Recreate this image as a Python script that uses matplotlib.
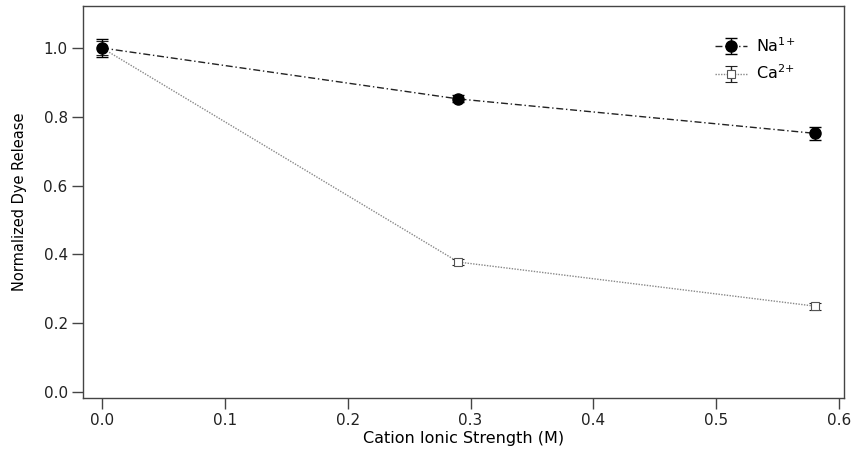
import matplotlib
matplotlib.use("Agg")
import matplotlib.pyplot as plt
from matplotlib.ticker import FormatStrFormatter

plt.rcParams['font.family'] = ['DejaVu Sans']

ionic_strength = [0.0, 0.29, 0.58]
na_release = [1.0, 0.852, 0.752]
na_err = [0.025, 0.01, 0.018]
ca_release = [1.0, 0.378, 0.25]
ca_err = [0.02, 0.008, 0.01]

fig = plt.figure(figsize=(8.53, 4.61), dpi=100)
ax = fig.add_axes([0.0973, 0.1367, 0.8922, 0.8503])

ax.errorbar(ionic_strength, ca_release, yerr=ca_err, color='#888888', lw=1.0,
            ls=(0, (1, 1)), marker='s', ms=6, mfc='white', mec='#555555',
            mew=0.8, ecolor='#222222', elinewidth=1.0, capsize=4, capthick=1.0,
            label=r'Ca$^{\mathregular{2{+}}}$', zorder=2)
ax.errorbar(ionic_strength, na_release, yerr=na_err, color='#222222', lw=1.0,
            ls=(0, (5, 2, 1, 2)), marker='o', ms=8, mfc='black', mec='black',
            ecolor='black', elinewidth=1.0, capsize=4, capthick=1.0,
            label=r'Na$^{\mathregular{1{+}}}$', zorder=3)

ax.set_xlim(-0.0155, 0.604)
ax.set_ylim(-0.017, 1.122)
ax.set_xticks([0.0, 0.1, 0.2, 0.3, 0.4, 0.5, 0.6])
ax.set_yticks([0.0, 0.2, 0.4, 0.6, 0.8, 1.0])
ax.xaxis.set_major_formatter(FormatStrFormatter('%.1f'))
ax.yaxis.set_major_formatter(FormatStrFormatter('%.1f'))
for side in ax.spines:
    ax.spines[side].set_color('#444444')
    ax.spines[side].set_linewidth(1.0)
ax.tick_params(direction='out', length=8, width=1, color='#444444',
               labelsize=11, labelcolor='#222222', pad=3)

ax.set_xlabel('Cation Ionic Strength (M)', fontsize=11.5, labelpad=2)
ax.set_ylabel('Normalized Dye Release', fontsize=10.5, labelpad=12)

handles, labels = ax.get_legend_handles_labels()
leg = ax.legend(handles[::-1], labels[::-1], loc='upper left',
                bbox_to_anchor=(0.811, 0.96), frameon=False,
                fontsize=11.5, handlelength=2.0, handletextpad=0.6,
                labelspacing=0.55)

fig.savefig('out.png', dpi=100)
